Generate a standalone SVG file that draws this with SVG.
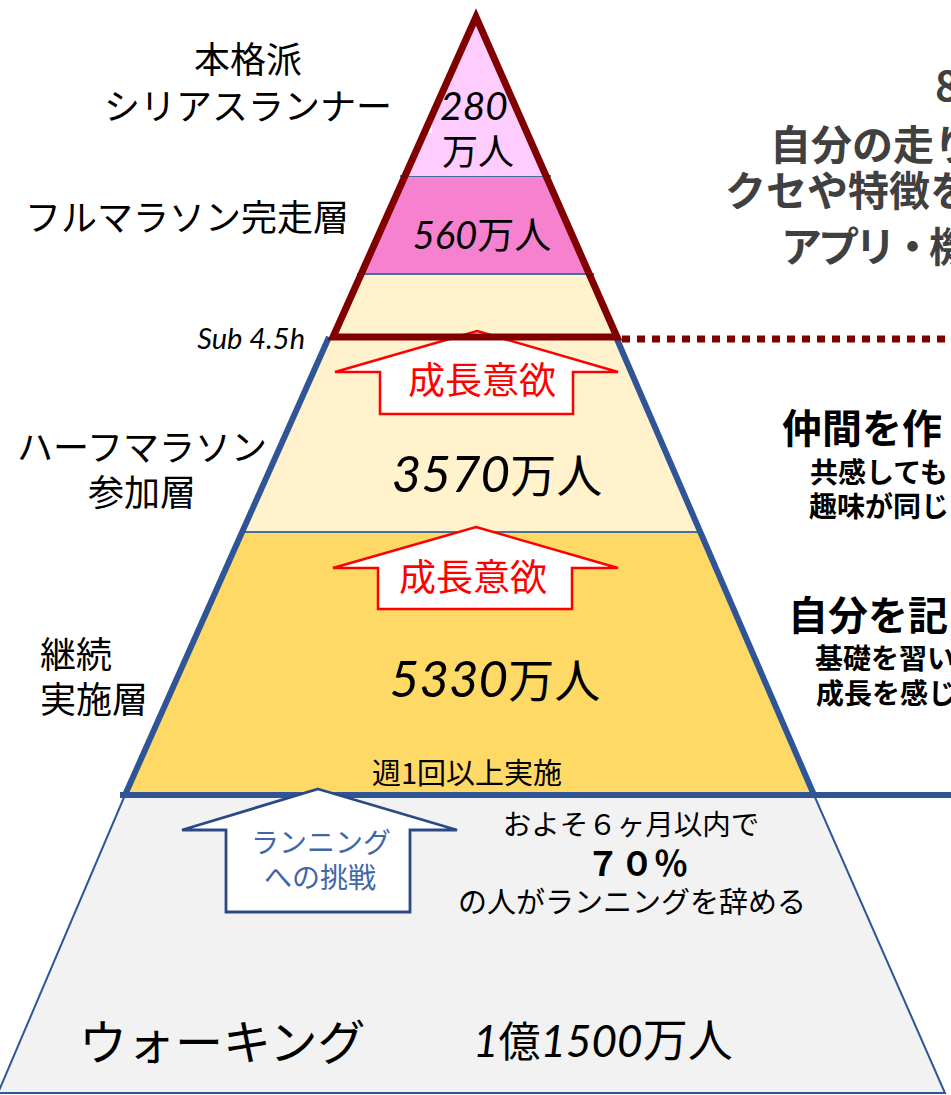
<svg xmlns="http://www.w3.org/2000/svg" width="951" height="1095" viewBox="0 0 951 1095">
<style>
.jp{font-family:"Noto Sans CJK JP","Noto Sans",sans-serif;}
.lbl{font-family:"Noto Sans CJK JP","Noto Sans",sans-serif;font-size:36px;fill:#000;}
.num{font-family:Lato,"Noto Sans CJK JP",sans-serif;font-style:italic;fill:#000;}
.up{font-family:"Noto Sans CJK JP",sans-serif;font-style:normal;}
.gr{font-family:"Noto Sans CJK JP",sans-serif;font-weight:700;fill:#404040;font-size:41px;}
.bk{font-family:"Noto Sans CJK JP",sans-serif;font-weight:700;fill:#000;}
.div{stroke:#41719C;stroke-width:2;fill:none;}
.redarrow{fill:#fff;stroke:#FF0000;stroke-width:2.5;stroke-linejoin:miter;}
.redtxt{font-family:"Noto Sans CJK JP",sans-serif;font-size:37px;fill:#FF0000;}
</style>
<rect width="951" height="1095" fill="#fff"/>

<g id="layer-walking">
<polygon points="125,795 814,795 945,1093 -2,1093" fill="#F2F2F2" stroke="#2F5597" stroke-width="2"/>
<text class="jp" x="79" y="1060" font-size="48">ウォーキング</text>
<text class="num" x="473" y="1057" font-size="44">1<tspan class="up" font-size="42">億</tspan>1500<tspan class="up" font-size="45">万人</tspan></text>
<text class="jp" x="631" y="835" font-size="28.5" text-anchor="middle">およそ６ヶ月以内で</text>
<text class="bk" x="637" y="876" font-size="34" text-anchor="middle">７０％</text>
<text class="jp" x="632" y="913" font-size="29" text-anchor="middle">の人がランニングを辞める</text>
</g>

<g id="layer-continuing">
<polygon points="242,532 700,532 814,795 125,795" fill="#FFD966"/>
<text class="num" x="495" y="697" text-anchor="middle" font-size="51">5330<tspan class="up" font-size="46">万人</tspan></text>
<text class="jp" x="467" y="784" font-size="29" text-anchor="middle">週1回以上実施</text>
</g>

<g id="layer-half">
<polygon points="360,274 591,274 620,337 700,532 242,532 332,337" fill="#FFF2CC"/>
<line class="div" x1="244" y1="532" x2="699" y2="532" stroke-width="1.5"/>
<text class="num" x="497" y="492" text-anchor="middle" font-size="51">3570<tspan class="up" font-size="46">万人</tspan></text>
</g>

<g id="layer-full">
<polygon points="404,176 548,176 591,274 360,274" fill="#F681CF"/>
<line class="div" x1="400" y1="176" x2="551" y2="176"/>
<line class="div" x1="357" y1="274" x2="594" y2="274"/>
<text class="num" x="482" y="249" text-anchor="middle" font-size="38">560<tspan class="up" font-size="37">万人</tspan></text>
</g>

<g id="layer-serious">
<polygon points="476,17 548,176 404,176" fill="#FFCCFF"/>
<rect x="400" y="60" width="32" height="73" fill="#fff"/>
<text class="num" x="474" y="120" text-anchor="middle" font-size="39">280</text>
<text class="jp" x="478" y="165" text-anchor="middle" font-size="36">万人</text>
</g>

<g id="connectors">
<polygon class="redarrow" points="477,331 618,372 573,372 573,414 380,414 380,372 335,372"/>
<line x1="329" y1="337" x2="125" y2="795" stroke="#2F5597" stroke-width="6"/>
<line x1="616" y1="337" x2="814" y2="795" stroke="#2F5597" stroke-width="6"/>
<line x1="120" y1="795" x2="951" y2="795" stroke="#2F5597" stroke-width="6"/>
<polygon points="476,17 333,337 617,337" fill="none" stroke="#800000" stroke-width="7" stroke-linejoin="miter" stroke-miterlimit="10"/>
<line x1="622" y1="339" x2="951" y2="339" stroke="#800000" stroke-width="7" stroke-dasharray="8 7"/>
<polygon class="redarrow" points="476,527 618,568 572,568 572,609 378,609 378,568 333,568"/>
<polygon points="318,789 457,830 410,830 410,912 226,912 226,830 182,830" fill="#fff" stroke="#2B4A85" stroke-width="2.8"/>
</g>

<g id="arrow-labels">
<text class="redtxt" x="482" y="394" text-anchor="middle">成長意欲</text>
<text class="redtxt" x="473" y="591" text-anchor="middle">成長意欲</text>
<text class="jp" x="321" y="853" font-size="28" fill="#4166A8" text-anchor="middle">ランニング</text>
<text class="jp" x="320" y="888" font-size="28" fill="#4166A8" text-anchor="middle">への挑戦</text>
</g>

<g id="left-labels">
<text class="lbl" x="248" y="73" text-anchor="middle">本格派</text>
<text class="lbl" x="248" y="120" text-anchor="middle">シリアスランナー</text>
<text class="lbl" x="187" y="231" text-anchor="middle">フルマラソン完走層</text>
<text class="num" x="305" y="349" text-anchor="end" font-size="29">Sub 4.5h</text>
<text class="lbl" x="142" y="461" text-anchor="middle" font-size="37">ハーフマラソン</text>
<text class="lbl" x="142" y="506" text-anchor="middle">参加層</text>
<text class="lbl" x="40" y="668">継続</text>
<text class="lbl" x="40" y="713">実施層</text>
</g>

<g id="right-texts">
<text class="gr" x="935" y="101" font-size="58">8</text>
<text class="gr" x="770" y="160">自分の走り</text>
<text class="gr" x="725" y="206">クセや特徴を</text>
<text class="gr" x="781" y="262" letter-spacing="-4">アプリ・機</text>
<text class="bk" x="782" y="443" font-size="40">仲間を作</text>
<text class="bk" x="810" y="483" font-size="28">共感しても</text>
<text class="bk" x="809" y="517" font-size="28">趣味が同じ</text>
<text class="bk" x="788" y="630" font-size="40">自分を記</text>
<text class="bk" x="815" y="669" font-size="28">基礎を習い</text>
<text class="bk" x="816" y="704" font-size="28">成長を感じ</text>
</g>
</svg>
